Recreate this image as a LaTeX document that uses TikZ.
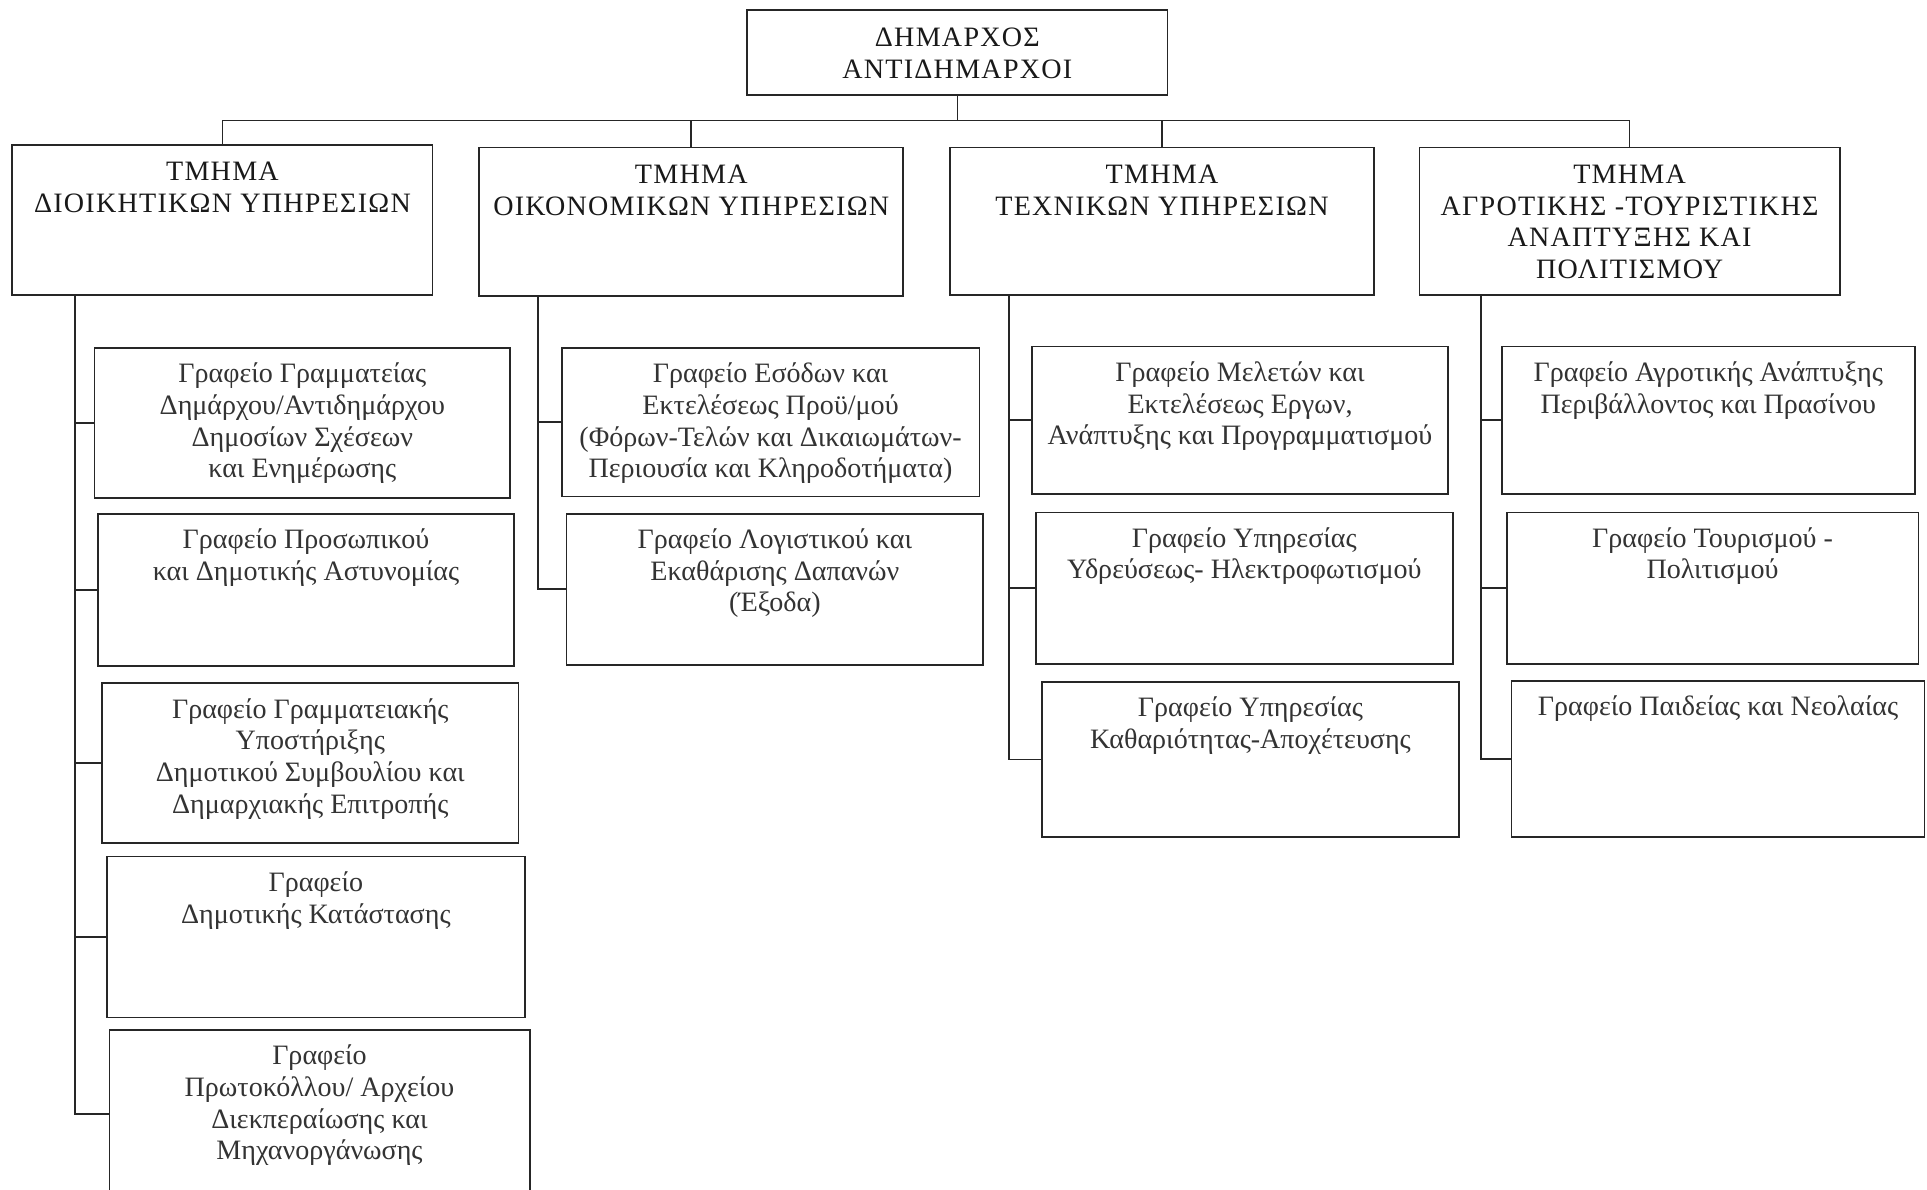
\documentclass[tikz,border=0pt]{standalone}
\usepackage{fontspec}
\setmainfont{Liberation Serif}
\usetikzlibrary{fit}

\tikzset{
  box/.style={draw=black!85, line width=0.8pt, inner sep=0pt},
  link/.style={draw=black!85, line width=0.8pt},
  boxtext/.style={anchor=north, align=center, inner sep=0pt, text=black!80,
    font=\fontsize{13}{14.7}\selectfont},
  headtext/.style={boxtext, text=black!90,
    font=\fontsize{13}{14.7}\selectfont\addfontfeature{LetterSpace=4.5}}
}

\begin{document}
\begin{tikzpicture}[x=0.02cm, y=-0.02cm]
        \path[use as bounding box, clip] (0,0) rectangle (1568,968);
        \fill[white] (0,0) rectangle (1568,968);
        % Mayor on top
        \node[box, fit={(608,8) (950,77)}] (mayor) {};
        \node[headtext] (mayortxt) at ([yshift=-0.3cm]mayor.north) {ΔΗΜΑΡΧΟΣ\\ΑΝΤΙΔΗΜΑΡΧΟΙ};
        % Departments
        \node[box, fit={(10,118) (352,240)}] (dep1) {};
        \node[headtext] (dep1txt) at ([yshift=-0.29cm]dep1.north) {ΤΜΗΜΑ\\ΔΙΟΙΚΗΤΙΚΩΝ ΥΠΗΡΕΣΙΩΝ};
        \node[box, fit={(390,120) (735,241)}] (dep2) {};
        \node[headtext] (dep2txt) at ([yshift=-0.29cm]dep2.north) {ΤΜΗΜΑ\\ΟΙΚΟΝΟΜΙΚΩΝ ΥΠΗΡΕΣΙΩΝ};
        \node[box, fit={(773,120) (1118,240)}] (dep3) {};
        \node[headtext] (dep3txt) at ([yshift=-0.29cm]dep3.north) {ΤΜΗΜΑ\\ΤΕΧΝΙΚΩΝ ΥΠΗΡΕΣΙΩΝ};
        \node[box, fit={(1155,120) (1497,240)}] (dep4) {};
        \node[headtext] (dep4txt) at ([yshift=-0.29cm]dep4.north) {ΤΜΗΜΑ\\ΑΓΡΟΤΙΚΗΣ -ΤΟΥΡΙΣΤΙΚΗΣ\\ΑΝΑΠΤΥΞΗΣ ΚΑΙ\\ΠΟΛΙΤΙΣΜΟΥ};
        % Bus line from mayor to the departments
        \coordinate (bus) at (780,98);
        \draw[link] (mayor.south) -- (mayor.south |- bus);
        \draw[link] (dep1.north) -- (dep1.north |- bus) -- (dep4.north |- bus) -- (dep4.north);
        \draw[link] (dep2.north) -- (dep2.north |- bus);
        \draw[link] (dep3.north) -- (dep3.north |- bus);

        % Offices of the administrative department
        \node[box, fit={(77,283) (415,405)}] (gr11) {};
        \node[boxtext] (gr11txt) at ([yshift=-0.25cm]gr11.north) {Γραφείο Γραμματείας\\Δημάρχου/Αντιδημάρχου\\Δημοσίων Σχέσεων\\και Ενημέρωσης};
        \node[box, fit={(80,418) (418,542)}] (gr12) {};
        \node[boxtext] (gr12txt) at ([yshift=-0.25cm]gr12.north) {Γραφείο Προσωπικού\\και Δημοτικής Αστυνομίας};
        \node[box, fit={(83,556) (422,686)}] (gr13) {};
        \node[boxtext] (gr13txt) at ([yshift=-0.25cm]gr13.north) {Γραφείο Γραμματειακής\\Υποστήριξης\\Δημοτικού Συμβουλίου και\\Δημαρχιακής Επιτροπής};
        \node[box, fit={(87,697) (427,828)}] (gr14) {};
        \node[boxtext] (gr14txt) at ([yshift=-0.25cm]gr14.north) {Γραφείο\\Δημοτικής Κατάστασης};
        \node[box, fit={(89,838) (431,975)}] (gr15) {};
        \node[boxtext] (gr15txt) at ([yshift=-0.25cm]gr15.north) {Γραφείο\\Πρωτοκόλλου/ Αρχείου\\Διεκπεραίωσης και\\Μηχανοργάνωσης};
        \coordinate (sp1) at (61,0);
        \draw[link] (dep1.south -| sp1) -- (sp1 |- gr15.west) -- (gr15.west);
        \draw[link] (sp1 |- gr11.west) -- (gr11.west);
        \draw[link] (sp1 |- gr12.west) -- (gr12.west);
        \draw[link] (sp1 |- gr13.west) -- (gr13.west);
        \draw[link] (sp1 |- gr14.west) -- (gr14.west);

        % Offices of the financial department
        \node[box, fit={(457,283) (797,404)}] (gr21) {};
        \node[boxtext] (gr21txt) at ([yshift=-0.25cm]gr21.north) {Γραφείο Εσόδων και\\Εκτελέσεως Προϋ/μού\\(Φόρων-Τελών και Δικαιωμάτων-\\Περιουσία και Κληροδοτήματα)};
        \node[box, fit={(461,418) (800,541)}] (gr22) {};
        \node[boxtext] (gr22txt) at ([yshift=-0.25cm]gr22.north) {Γραφείο Λογιστικού και\\Εκαθάρισης Δαπανών\\(Έξοδα)};
        \coordinate (sp2) at (438,0);
        \draw[link] (dep2.south -| sp2) -- (sp2 |- gr22.west) -- (gr22.west);
        \draw[link] (sp2 |- gr21.west) -- (gr21.west);

        % Offices of the technical department
        \node[box, fit={(840,282) (1178,402)}] (gr31) {};
        \node[boxtext] (gr31txt) at ([yshift=-0.25cm]gr31.north) {Γραφείο Μελετών και\\Εκτελέσεως Εργων,\\Ανάπτυξης και Προγραμματισμού};
        \node[box, fit={(843,417) (1182,540)}] (gr32) {};
        \node[boxtext] (gr32txt) at ([yshift=-0.25cm]gr32.north) {Γραφείο Υπηρεσίας\\Υδρεύσεως- Ηλεκτροφωτισμού};
        \node[box, fit={(848,555) (1187,681)}] (gr33) {};
        \node[boxtext] (gr33txt) at ([yshift=-0.25cm]gr33.north) {Γραφείο Υπηρεσίας\\Καθαριότητας-Αποχέτευσης};
        \coordinate (sp3) at (821,0);
        \draw[link] (dep3.south -| sp3) -- (sp3 |- gr33.west) -- (gr33.west);
        \draw[link] (sp3 |- gr31.west) -- (gr31.west);
        \draw[link] (sp3 |- gr32.west) -- (gr32.west);

        % Offices of the agriculture / tourism department
        \node[box, fit={(1222,282) (1558,402)}] (gr41) {};
        \node[boxtext] (gr41txt) at ([yshift=-0.25cm]gr41.north) {Γραφείο Αγροτικής Ανάπτυξης\\Περιβάλλοντος και Πρασίνου};
        \node[box, fit={(1226,417) (1561,540)}] (gr42) {};
        \node[boxtext] (gr42txt) at ([yshift=-0.25cm]gr42.north) {Γραφείο Τουρισμού -\\Πολιτισμού};
        \node[box, fit={(1230,554) (1566,681)}] (gr43) {};
        \node[boxtext] (gr43txt) at ([yshift=-0.25cm]gr43.north) {Γραφείο Παιδείας και Νεολαίας};
        \coordinate (sp4) at (1205,0);
        \draw[link] (dep4.south -| sp4) -- (sp4 |- gr43.west) -- (gr43.west);
        \draw[link] (sp4 |- gr41.west) -- (gr41.west);
        \draw[link] (sp4 |- gr42.west) -- (gr42.west);
\end{tikzpicture}
\end{document}
